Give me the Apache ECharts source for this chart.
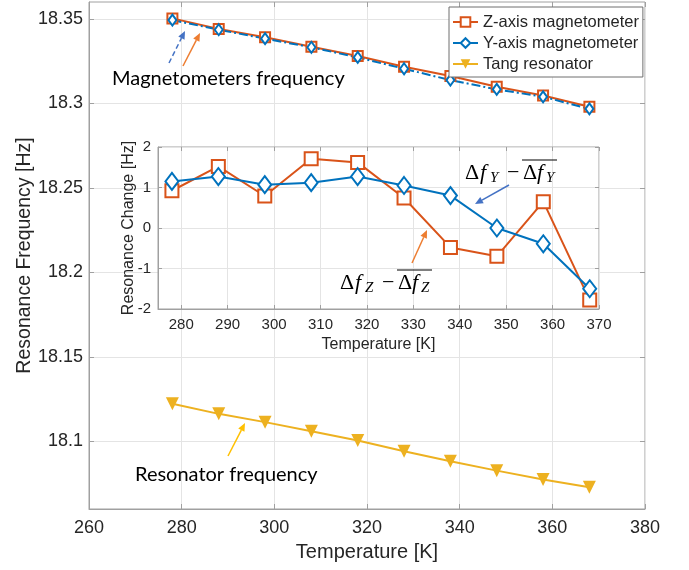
<!DOCTYPE html>
<html>
<head>
<meta charset="utf-8">
<script src="https://cdn.jsdelivr.net/npm/echarts@6/dist/echarts.min.js"></script>
<style>
html, body { margin: 0; padding: 0; background: #fff; }
#chart { width: 689px; height: 570px; }
</style>
</head>
<body>
<div id="chart"></div>
<script>
// data
var temps = [278, 288, 298, 308, 318, 328, 338, 348, 358, 368];
var zMag = [18.3503, 18.3440, 18.3391, 18.3335, 18.3280, 18.3217, 18.3162, 18.3098, 18.3047, 18.2980];
var yMag = [18.3493, 18.3436, 18.3383, 18.3332, 18.3272, 18.3205, 18.3138, 18.3083, 18.3039, 18.2968];
var tang = [18.1223, 18.1163, 18.1114, 18.1060, 18.1005, 18.0942, 18.0883, 18.0827, 18.0774, 18.0729];
var zChange = [0.92, 1.52, 0.79, 1.71, 1.62, 0.74, -0.48, -0.70, 0.65, -1.78];
var yChange = [1.15, 1.27, 1.07, 1.12, 1.27, 1.05, 0.80, 0.00, -0.39, -1.50];
var freqTicks = [18.1, 18.15, 18.2, 18.25, 18.3, 18.35];
var insetTempTicks = [280, 290, 300, 310, 320, 330, 340, 350, 360, 370];
var legendNames = ['Z-axis magnetometer', 'Y-axis magnetometer', 'Tang resonator'];

function pairs(xs, ys) {
  return xs.map(function (x, i) { return [x, ys[i]]; });
}

var sans = 'Liberation Sans';
var serif = 'Liberation Serif';
var ink = '#262626';
var boxColor = '#a0a0a0';
var gridColor = '#e4e4e4';
var orange = '#D95319', blue = '#0072BD', yellow = '#EDB120';
var Z = 100; // annotations above everything, incl. the inset background

// arrow made of a line and a filled head
function arrow(x1, y1, x2, y2, color, dash) {
  var dx = x2 - x1, dy = y2 - y1;
  var len = Math.sqrt(dx * dx + dy * dy);
  var ux = dx / len, uy = dy / len;
  var hl = 8, hw = 3.5;
  var bx = x2 - ux * hl, by = y2 - uy * hl;
  return {
    type: 'group',
    children: [
      { type: 'line', z: Z, shape: { x1: x1, y1: y1, x2: bx, y2: by },
        style: { stroke: color, lineWidth: 1.5, lineDash: dash ? [5, 3] : null } },
      { type: 'polygon', z: Z, shape: { points: [[x2, y2], [bx - uy * hw, by + ux * hw], [bx + uy * hw, by - ux * hw]] },
        style: { fill: color } }
    ]
  };
}

// "Δf_s − overline(Δf_s)"
function mathLabel(x, cy, sub) {
  function t(txt, dx, dy, size, italic) {
    return { type: 'text', z: Z, x: x + dx, y: cy + dy,
      style: { text: txt, font: (italic ? 'italic ' : '') + size + 'px "' + serif + '"',
        fill: '#000', align: 'left', verticalAlign: 'middle' } };
  }
  return {
    type: 'group',
    children: [
      t('\u0394', 0, 0, 22, false),
      t('f', 15, 0, 22, true),
      t(sub, 25, 5, 15, true),
      t('\u2212', 42, 0, 22, false),
      t('\u0394', 58, 0, 22, false),
      t('f', 72, 0, 22, true),
      t(sub, 81, 5, 15, true),
      { type: 'line', z: Z, shape: { x1: x + 57, y1: cy - 13, x2: x + 92, y2: cy - 13 },
        style: { stroke: '#000', lineWidth: 1.2 } }
    ]
  };
}

function note(txt, x, cy) {
  return { type: 'text', x: x, y: cy, z: Z,
    style: { text: txt, font: '20px Lato', fill: '#000', align: 'left', verticalAlign: 'middle' } };
}

function fmt(v) { return String(parseFloat(v.toFixed(4))); }

var chart = echarts.init(document.getElementById('chart'));
chart.setOption({
  animation: false,
  backgroundColor: '#fff',
  grid: [
    { left: 89, top: 2, right: 44, bottom: 61, show: true, borderColor: boxColor, borderWidth: 1,
      backgroundColor: 'transparent' },
    { left: 158, top: 147, right: 90, bottom: 261, show: true, borderColor: boxColor, borderWidth: 1,
      backgroundColor: '#fff', z: 3 }
  ],
  legend: {
    data: legendNames,
    orient: 'vertical', left: 449, top: 7,
    itemWidth: 25, itemHeight: 12, itemGap: 3,
    padding: [6, 4, 4, 3],
    backgroundColor: '#fff', borderColor: '#6e6e6e', borderWidth: 1,
    textStyle: { fontFamily: sans, fontSize: 16.5, color: ink, lineHeight: 18 }
  },
  xAxis: [
    { gridIndex: 0, type: 'value', min: 260, max: 380, interval: 20, position: 'bottom',
      name: 'Temperature [K]', nameLocation: 'middle', nameGap: 33, nameMoveOverlap: false,
      nameTextStyle: { fontFamily: sans, fontSize: 20, color: ink },
      axisLine: { show: true, onZero: false, lineStyle: { color: boxColor } },
      axisTick: { inside: true, length: 5, lineStyle: { color: boxColor } },
      axisLabel: { fontFamily: sans, fontSize: 18, color: ink, margin: 10 },
      splitLine: { show: true, lineStyle: { color: gridColor } } },
    { gridIndex: 0, type: 'value', min: 260, max: 380, interval: 20, position: 'top',
      axisLine: { show: false, onZero: false }, axisLabel: { show: false }, splitLine: { show: false },
      axisTick: { inside: true, length: 5, lineStyle: { color: boxColor } } },
    { gridIndex: 1, type: 'value', min: 275, max: 370, position: 'bottom', z: 4,
      name: 'Temperature [K]', nameLocation: 'middle', nameGap: 28, nameMoveOverlap: false,
      nameTextStyle: { fontFamily: sans, fontSize: 16, color: ink },
      axisLine: { show: true, onZero: false, lineStyle: { color: boxColor } },
      axisTick: { customValues: insetTempTicks, inside: true, length: 4, lineStyle: { color: boxColor } },
      axisLabel: { customValues: insetTempTicks, fontFamily: sans, fontSize: 15, color: ink, margin: 8 },
      splitLine: { show: true, lineStyle: { color: gridColor } } },
    { gridIndex: 1, type: 'value', min: 275, max: 370, position: 'top', z: 4,
      axisLine: { show: false, onZero: false }, axisLabel: { show: false }, splitLine: { show: false },
      axisTick: { customValues: insetTempTicks, inside: true, length: 4, lineStyle: { color: boxColor } } }
  ],
  yAxis: [
    { gridIndex: 0, type: 'value', min: 18.06, max: 18.36, position: 'left',
      name: 'Resonance Frequency [Hz]', nameLocation: 'middle', nameGap: 54, nameMoveOverlap: false,
      nameTextStyle: { fontFamily: sans, fontSize: 19.5, color: ink },
      axisLine: { show: true, onZero: false, lineStyle: { color: boxColor } },
      axisTick: { customValues: freqTicks, inside: true, length: 5, lineStyle: { color: boxColor } },
      axisLabel: { customValues: freqTicks, formatter: fmt, fontFamily: sans, fontSize: 18, color: ink, margin: 6 },
      splitLine: { show: true, lineStyle: { color: gridColor } } },
    { gridIndex: 0, type: 'value', min: 18.06, max: 18.36, position: 'right',
      axisLine: { show: false, onZero: false }, axisLabel: { show: false }, splitLine: { show: false },
      axisTick: { customValues: freqTicks, inside: true, length: 5, lineStyle: { color: boxColor } } },
    { gridIndex: 1, type: 'value', min: -2, max: 2, interval: 1, position: 'left', z: 4,
      name: 'Resonance Change [Hz]', nameLocation: 'middle', nameGap: 21, nameMoveOverlap: false,
      nameTextStyle: { fontFamily: sans, fontSize: 16, color: ink },
      axisLine: { show: true, onZero: false, lineStyle: { color: boxColor } },
      axisTick: { inside: true, length: 4, lineStyle: { color: boxColor } },
      axisLabel: { fontFamily: sans, fontSize: 15, color: ink, margin: 7 },
      splitLine: { show: true, lineStyle: { color: gridColor } } },
    { gridIndex: 1, type: 'value', min: -2, max: 2, interval: 1, position: 'right', z: 4,
      axisLine: { show: false, onZero: false }, axisLabel: { show: false }, splitLine: { show: false },
      axisTick: { inside: true, length: 4, lineStyle: { color: boxColor } } }
  ],
  series: [
    { name: legendNames[0], type: 'line', xAxisIndex: 0, yAxisIndex: 0, z: 2,
      data: pairs(temps, zMag), symbol: 'emptyRect', symbolSize: 10,
      lineStyle: { color: orange, width: 2 }, itemStyle: { color: orange, borderWidth: 2 } },
    { name: legendNames[1], type: 'line', xAxisIndex: 0, yAxisIndex: 0, z: 2,
      data: pairs(temps, yMag), symbol: 'emptyDiamond', symbolSize: [8, 11],
      lineStyle: { color: blue, width: 2, type: [9, 3, 2, 3] }, itemStyle: { color: blue, borderWidth: 2 } },
    { name: legendNames[2], type: 'line', xAxisIndex: 0, yAxisIndex: 0, z: 2,
      data: pairs(temps, tang), symbol: 'triangle', symbolRotate: 180, symbolSize: 13,
      lineStyle: { color: yellow, width: 2 }, itemStyle: { color: yellow } },
    { name: 'dfZ', type: 'line', xAxisIndex: 2, yAxisIndex: 2, z: 5,
      data: pairs(temps, zChange), symbol: 'emptyRect', symbolSize: 13,
      lineStyle: { color: orange, width: 2 }, itemStyle: { color: orange, borderWidth: 2 } },
    { name: 'dfY', type: 'line', xAxisIndex: 2, yAxisIndex: 2, z: 5,
      data: pairs(temps, yChange), symbol: 'emptyDiamond', symbolSize: [13, 17],
      lineStyle: { color: blue, width: 2 }, itemStyle: { color: blue, borderWidth: 2 } }
  ],
  graphic: [
    note('Magnetometers frequency', 112, 79),
    note('Resonator frequency', 135, 475),
    arrow(169, 63, 185, 31, '#4472C4', true),
    arrow(183, 66, 200, 33, '#ED7D31', false),
    arrow(228, 456, 245, 423, '#FFC000', false),
    arrow(412, 263, 427, 230, '#ED7D31', false),
    arrow(509, 185, 475, 204, '#4472C4', false),
    mathLabel(340, 283, 'Z'),
    mathLabel(465, 173, 'Y')
  ]
});
</script>
</body>
</html>
